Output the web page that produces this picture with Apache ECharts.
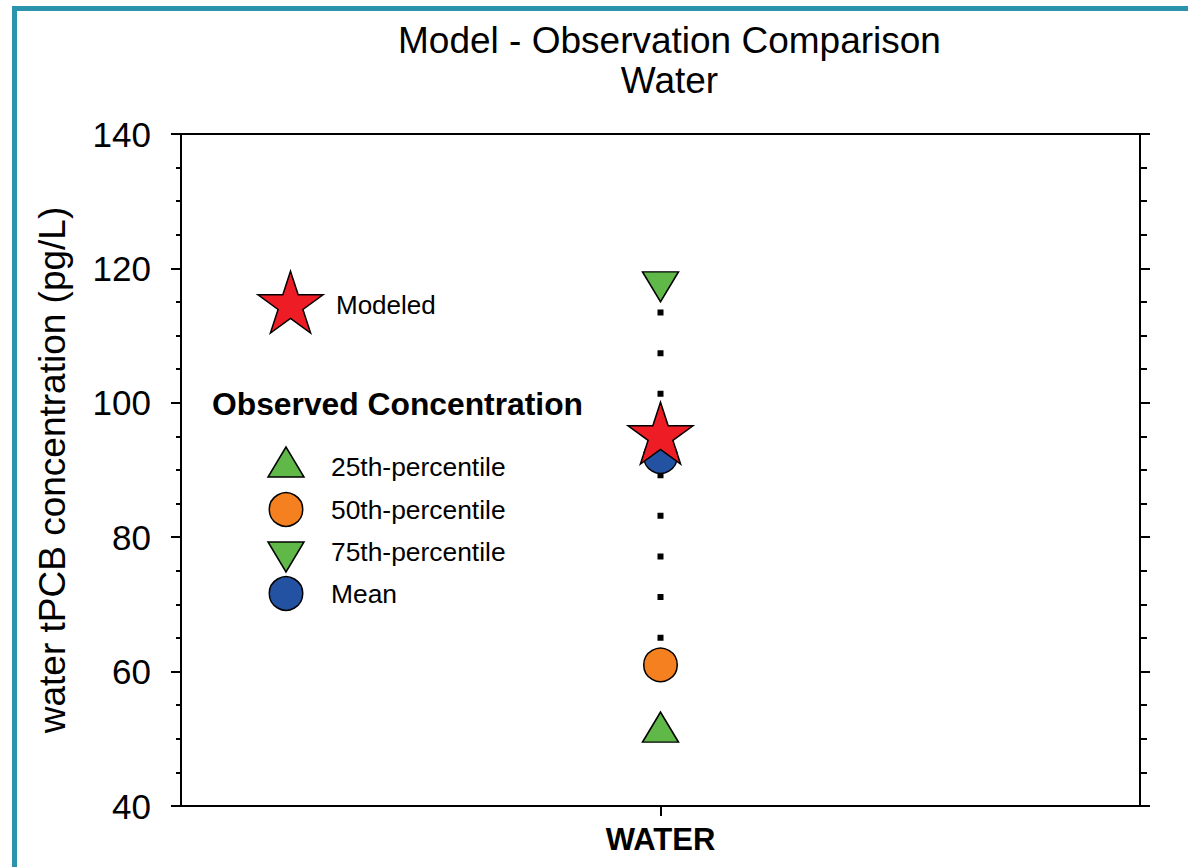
<!DOCTYPE html>
<html>
<head>
<meta charset="utf-8">
<title>Model - Observation Comparison: Water</title>
<script src="https://cdn.jsdelivr.net/npm/echarts@6/dist/echarts.min.js"></script>
<style>
  html, body { margin: 0; padding: 0; background: #ffffff; }
  #chart { width: 1188px; height: 867px; }
</style>
</head>
<body>
<div id="chart"></div>
<script>
// ---- data ----
const categories = ['WATER'];
const modeled = [95];      // modeled tPCB, pg/L
const pct25 = [51];        // observed 25th percentile
const pct50 = [61];        // observed median
const pct75 = [118];       // observed 75th percentile
const meanObs = [92];      // observed mean
const legendLabels = ['25th-percentile', '50th-percentile', '75th-percentile', 'Mean'];

// ---- styling ----
const FONT = '"Liberation Sans", Arial, Helvetica, sans-serif';
const RED = '#ee1c25';
const GREEN = '#5fb848';
const ORANGE = '#f4801f';
const BLUE = '#2352a3';
const FRAME = '#2b93ab';

// regular five-point star, upright
const STAR = 'path://M0,-100 L22.45,-30.9 L95.11,-30.9 L36.33,11.8 L58.78,80.9 L0,38.2 L-58.78,80.9 L-36.33,11.8 L-95.11,-30.9 L-22.45,-30.9 Z';
const TRI_DOWN = 'path://M0,0 L36,0 L18,30 Z';

function starPoints(cx, cy, R) {
  const pts = [];
  for (let k = 0; k < 10; k++) {
    const a = (-90 + 36 * k) * Math.PI / 180;
    const r = k % 2 === 0 ? R : R * 0.382;
    pts.push([cx + r * Math.cos(a), cy + r * Math.sin(a)]);
  }
  return pts;
}

function markerStyle(fill) {
  return { color: fill, opacity: 1, borderColor: '#000', borderWidth: 1.5 };
}

// whisker from 75th to 25th percentile
const whisker = [[categories[0], pct75[0]], [categories[0], pct25[0]]];

const chart = echarts.init(document.getElementById('chart'), null, { renderer: 'svg' });

const axisLineStyle = { color: '#000', width: 2 };

chart.setOption({
  animation: false,
  backgroundColor: '#ffffff',
  textStyle: { fontFamily: FONT, color: '#000' },
  grid: { left: 181, right: 48, top: 134, bottom: 61, containLabel: false },
  xAxis: [
    {
      type: 'category',
      data: categories,
      position: 'bottom',
      axisLine: { show: true, lineStyle: axisLineStyle },
      axisTick: { show: true, alignWithLabel: true, length: 10, lineStyle: axisLineStyle },
      axisLabel: { fontSize: 31, fontWeight: 'bold', color: '#000', margin: 18, fontFamily: FONT },
      splitLine: { show: false }
    },
    {
      type: 'category',
      data: categories,
      position: 'top',
      axisLine: { show: true, lineStyle: axisLineStyle },
      axisTick: { show: false },
      axisLabel: { show: false },
      splitLine: { show: false }
    }
  ],
  yAxis: [
    {
      type: 'value',
      position: 'left',
      min: 40,
      max: 140,
      interval: 20,
      name: 'water tPCB concentration (pg/L)',
      nameLocation: 'middle',
      nameGap: 110,
      nameTextStyle: { fontSize: 37, color: '#000', fontFamily: FONT },
      axisLine: { show: true, lineStyle: axisLineStyle },
      axisTick: { show: true, inside: false, length: 10, lineStyle: axisLineStyle },
      minorTick: { show: true, splitNumber: 4, length: 5, lineStyle: axisLineStyle },
      axisLabel: { fontSize: 35, color: '#000', margin: 30, fontFamily: FONT },
      splitLine: { show: false },
      minorSplitLine: { show: false }
    },
    {
      type: 'value',
      position: 'right',
      min: 40,
      max: 140,
      interval: 20,
      axisLine: { show: true, lineStyle: axisLineStyle },
      axisTick: { show: true, inside: false, length: 10, lineStyle: axisLineStyle },
      minorTick: { show: true, splitNumber: 4, length: 7, lineStyle: axisLineStyle },
      axisLabel: { show: false },
      splitLine: { show: false },
      minorSplitLine: { show: false }
    }
  ],
  series: [
    {
      name: 'range',
      type: 'line',
      data: whisker,
      symbol: 'none',
      silent: true,
      lineStyle: { color: '#000', width: 6, type: [6, 34.66], dashOffset: 12.76, cap: 'butt' },
      z: 2
    },
    {
      name: '25th-percentile',
      type: 'scatter',
      data: pct25,
      symbol: 'triangle',
      symbolSize: [36, 30],
      symbolOffset: [0, -5],
      itemStyle: markerStyle(GREEN),
      z: 3
    },
    {
      name: '50th-percentile',
      type: 'scatter',
      data: pct50,
      symbol: 'circle',
      symbolSize: 33.5,
      itemStyle: markerStyle(ORANGE),
      z: 3
    },
    {
      name: '75th-percentile',
      type: 'scatter',
      data: pct75,
      symbol: TRI_DOWN,
      symbolSize: [36, 30],
      symbolOffset: [0, 5],
      itemStyle: markerStyle(GREEN),
      z: 3
    },
    {
      name: 'Mean',
      type: 'scatter',
      data: meanObs,
      symbol: 'circle',
      symbolSize: 33.5,
      itemStyle: markerStyle(BLUE),
      z: 4
    },
    {
      name: 'Modeled',
      type: 'scatter',
      data: modeled,
      symbol: STAR,
      symbolSize: [65, 61.8],
      symbolOffset: [0, -3.3],
      itemStyle: markerStyle(RED),
      z: 5
    }
  ],
  graphic: [
    // frame along the top and left edges
    {
      type: 'rect', silent: true, z: 100,
      shape: { x: 14.5, y: 8.5, width: 1300, height: 1000 },
      style: { fill: 'none', stroke: FRAME, lineWidth: 5 }
    },
    // title
    {
      type: 'text', silent: true,
      style: { text: 'Model - Observation Comparison', x: 669.5, y: 40, fontSize: 37, fontFamily: FONT, fill: '#000', textAlign: 'center', textVerticalAlign: 'middle' }
    },
    {
      type: 'text', silent: true,
      style: { text: 'Water', x: 669.5, y: 80, fontSize: 37, fontFamily: FONT, fill: '#000', textAlign: 'center', textVerticalAlign: 'middle' }
    },
    // key: modeled
    {
      type: 'polygon', silent: true,
      shape: { points: starPoints(290.5, 305.4, 34.2) },
      style: { fill: RED, stroke: '#000', lineWidth: 1.5 }
    },
    {
      type: 'text', silent: true,
      style: { text: 'Modeled', x: 336, y: 305, fontSize: 26, fontFamily: FONT, fill: '#000', textAlign: 'left', textVerticalAlign: 'middle' }
    },
    // key: observed
    {
      type: 'text', silent: true,
      style: { text: 'Observed Concentration', x: 212, y: 404, fontSize: 31.8, fontWeight: 'bold', fontFamily: FONT, fill: '#000', textAlign: 'left', textVerticalAlign: 'middle' }
    },
    {
      type: 'polygon', silent: true,
      shape: { points: [[286, 447], [268, 477], [304, 477]] },
      style: { fill: GREEN, stroke: '#000', lineWidth: 1.5 }
    },
    {
      type: 'circle', silent: true,
      shape: { cx: 286, cy: 509.5, r: 16.75 },
      style: { fill: ORANGE, stroke: '#000', lineWidth: 1.5 }
    },
    {
      type: 'polygon', silent: true,
      shape: { points: [[268, 542], [304, 542], [286, 572]] },
      style: { fill: GREEN, stroke: '#000', lineWidth: 1.5 }
    },
    {
      type: 'circle', silent: true,
      shape: { cx: 286, cy: 593.5, r: 16.75 },
      style: { fill: BLUE, stroke: '#000', lineWidth: 1.5 }
    }
  ].concat(legendLabels.map(function (label, i) {
    return {
      type: 'text', silent: true,
      style: { text: label, x: 331, y: [467, 509.5, 552, 594][i], fontSize: 26.4, fontFamily: FONT, fill: '#000', textAlign: 'left', textVerticalAlign: 'middle' }
    };
  }))
});
</script>
</body>
</html>
